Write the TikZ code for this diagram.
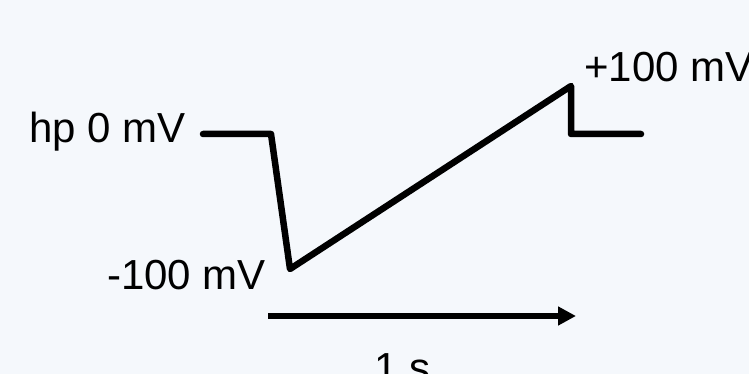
\documentclass[tikz,border=0pt]{standalone}
\usepackage{fontspec}
\setmainfont{Liberation Sans}
\usetikzlibrary{arrows.meta}
\definecolor{bgblue}{RGB}{245,248,252}
\tikzset{
  pulse/.style={line width=6.5pt, line cap=round, line join=round},
  vlabel/.style={inner sep=0pt, font=\fontsize{42}{50}\selectfont}
}
\begin{document}
\begin{tikzpicture}[x=1pt,y=-1pt]
% Frame and background
\clip (0,0) rectangle (749,374);
\fill[bgblue] (0,0) rectangle (749,374);

% Voltage protocol corners
\coordinate (hold) at (203,134);
\coordinate (stepdown) at (271,134);
\coordinate (low) at (290,269);
\coordinate (high) at (571,86);
\coordinate (back) at (571,134);
\coordinate (tail) at (641,134);

% Ramp protocol
\draw[pulse] (hold) -- (stepdown) -- (low) -- (high) -- (back) -- (tail);

% Time arrow
\coordinate (tstart) at (268,316);
\coordinate (tend) at (576,316);
\draw[line width=6.5pt, -{Triangle[length=18pt,width=18pt]}] (tstart) -- (tend);

% Labels
\node[vlabel, anchor=base east] (holdlabel) at (186,143) {hp 0 mV};
\node[vlabel, anchor=base east] (lowlabel) at (266,289) {-100 mV};
\node[vlabel, anchor=base west] (highlabel) at (584,82) {+100 mV};
\node[vlabel, anchor=base west] (timelabel) at (374,382) {1 s};
\end{tikzpicture}
\end{document}
